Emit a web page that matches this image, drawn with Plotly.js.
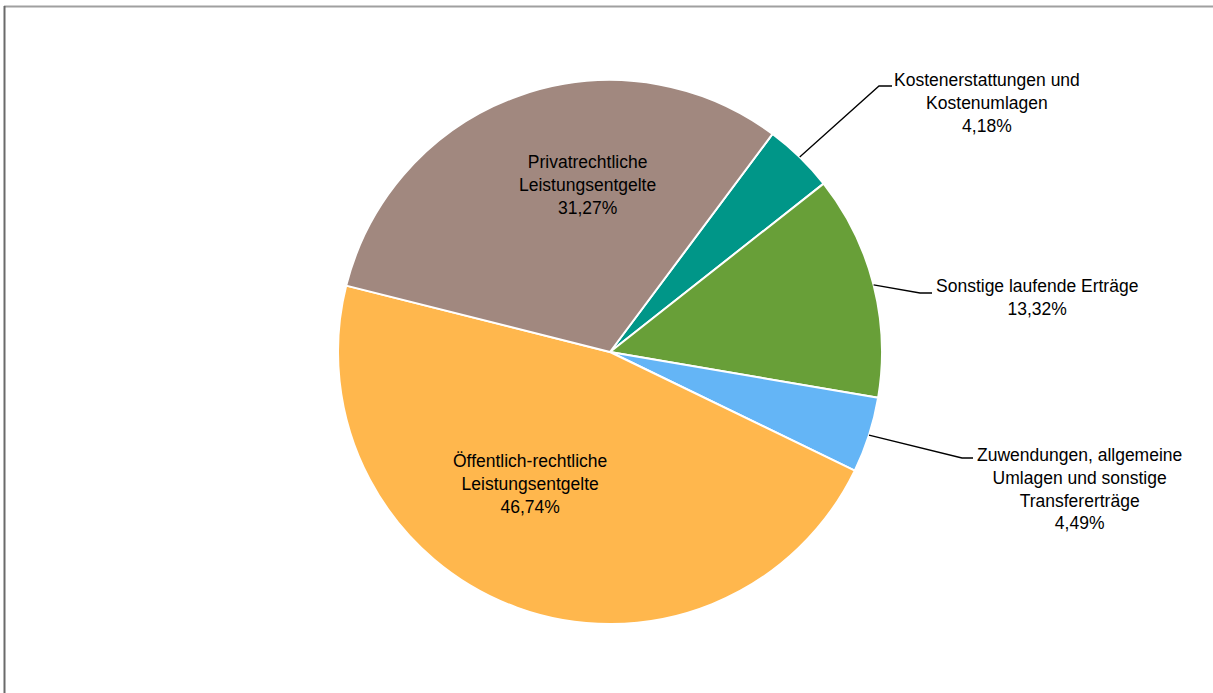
<!DOCTYPE html>
<html>
<head>
<meta charset="utf-8">
<script src="https://cdn.plot.ly/plotly-3.0.1.min.js"></script>
<style>html,body{margin:0;padding:0;background:#fff;}#chart{width:1213px;height:693px;}</style>
</head>
<body>
<div id="chart"></div>
<script>
// ---- data ----
var categories = [
  "Kostenerstattungen und Kostenumlagen",
  "Sonstige laufende Erträge",
  "Zuwendungen, allgemeine Umlagen und sonstige Transfererträge",
  "Öffentlich-rechtliche Leistungsentgelte",
  "Privatrechtliche Leistungsentgelte"
];
var labelLines = [
  ["Kostenerstattungen und", "Kostenumlagen"],
  ["Sonstige laufende Erträge"],
  ["Zuwendungen, allgemeine", "Umlagen und sonstige", "Transfererträge"],
  ["Öffentlich-rechtliche", "Leistungsentgelte"],
  ["Privatrechtliche", "Leistungsentgelte"]
];
var shares = [4.18, 13.32, 4.49, 46.74, 31.27];
var valueLabels = ["4,18%", "13,32%", "4,49%", "46,74%", "31,27%"];

// ---- styling / layout ----
var colors = ["#009688", "#689F38", "#64B5F6", "#FFB74D", "#A1887F"];
var W = 1213, H = 693;
var cx = 610, cy = 352, R = 272;
var rotation = 36.7;
var font = "'Liberation Sans Narrow', 'Arial Narrow', 'Liberation Sans', Arial, sans-serif";
var fsize = 17.5;

// label placement (pixel) and leader elbow (pixel), null = inside label
var labelPos = [[987, 103], [1037, 298], [1079, 489], [530, 484], [587, 185]];
var elbows = [[[879, 86], [892, 86]], [[920, 293], [932, 293]], [[962, 458], [973, 458]], null, null];

function px(x) { return x / W; }
function py(y) { return 1 - y / H; }

var total = shares.reduce(function (a, b) { return a + b; }, 0);
var annotations = [], shapes = [];
var acc = 0;
for (var i = 0; i < shares.length; i++) {
  var mid = rotation + (acc + shares[i] / 2) / total * 360;
  acc += shares[i];
  var txt = labelLines[i].concat([valueLabels[i]]).join("<br>");
  annotations.push({
    xref: "paper", yref: "paper", x: px(labelPos[i][0]), y: py(labelPos[i][1]),
    xanchor: "center", yanchor: "middle", showarrow: false, align: "center",
    text: txt, font: {family: font, size: fsize, color: "#000"}
  });
  if (elbows[i]) {
    var a = mid * Math.PI / 180;
    var sx = cx + R * Math.sin(a), sy = cy - R * Math.cos(a);
    var e1 = elbows[i][0], e2 = elbows[i][1];
    shapes.push({type: "path", xref: "paper", yref: "paper",
      path: "M" + px(sx) + "," + py(sy) + " L" + px(e1[0]) + "," + py(e1[1]) + " L" + px(e2[0]) + "," + py(e2[1]),
      line: {color: "#000", width: 1.3}});
  }
}
// frame
shapes.push({type: "line", xref: "paper", yref: "paper", x0: px(4), x1: 1.01, y0: py(6.5), y1: py(6.5), line: {color: "#a0a0a0", width: 2}});
shapes.push({type: "line", xref: "paper", yref: "paper", x0: px(4.5), x1: px(4.5), y0: py(6), y1: -0.01, line: {color: "#6a6a6a", width: 2}});

var trace = {
  type: "pie",
  labels: categories,
  values: shares,
  sort: false,
  direction: "clockwise",
  rotation: rotation,
  marker: {colors: colors, line: {color: "#ffffff", width: 2}},
  textinfo: "none",
  hoverinfo: "none",
  showlegend: false,
  domain: {x: [px(cx - 300), px(cx + 300)], y: [py(cy + R), py(cy - R)]}
};

var layout = {
  width: W, height: H,
  margin: {l: 0, r: 0, t: 0, b: 0},
  paper_bgcolor: "#ffffff",
  showlegend: false,
  annotations: annotations,
  shapes: shapes
};
Plotly.newPlot("chart", [trace], layout, {displayModeBar: false, staticPlot: true});
</script>
</body>
</html>
